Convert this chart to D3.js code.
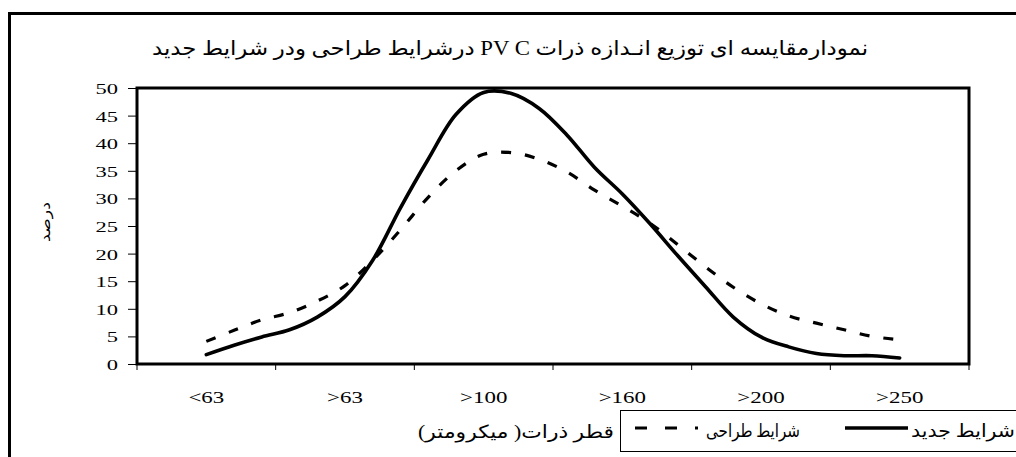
<!DOCTYPE html>
<html><head><meta charset="utf-8">
<script src="https://cdn.jsdelivr.net/npm/d3@7"></script>
<style>
html,body{margin:0;padding:0;background:#fff;}
svg{display:block;}
text{font-family:"Liberation Serif","DejaVu Sans",serif;fill:#000;}
</style></head>
<body>
<svg id="chart" width="1016" height="457"></svg>
<script>
// ---- data ----
const categories = ["<63", ">63", ">100", ">160", ">200", ">250"];
const xPositions = [0,0.2,0.4,0.6,0.8,1,1.2,1.4,1.6,1.8,2,2.2,2.4,2.6,2.8,3,3.2,3.4,3.6,3.8,4,4.2,4.4,4.6,4.8,5];
const newConditions = [1.7,3.4,4.9,6.2,8.5,12.2,18.8,28.3,37.1,45.2,49.2,49.0,46.3,41.5,35.6,30.8,25.4,19.6,14.0,8.5,4.9,3.1,1.9,1.5,1.5,1.1];
const designConditions = [4.1,6.1,8.0,9.3,11.4,14.2,18.8,24.3,30.2,35.0,38.0,38.3,37.1,34.8,31.5,28.6,25.5,21.6,17.6,13.9,10.9,8.7,7.4,6.2,5.0,4.4];
const yTicks = [0,5,10,15,20,25,30,35,40,45,50];
const titleText = "نمودارمقایسه ای توزیع انـدازه ذرات PV C درشرایط طراحی ودر شرایط جدید";
const yTitle = "درصد";
const xTitle = "قطر ذرات( میکرومتر)";
const seriesNames = ["شرایط طراحی", "شرایط جدید"];

// ---- layout ----
const svg = d3.select("#chart");
const L = 137, R = 969, T = 88, B = 364;

function fit(sel, width){
  sel.attr("textLength", width).attr("lengthAdjust","spacingAndGlyphs");
}

// outer frame
svg.append("path").attr("d","M9.5,460 V13.5 H1030").attr("fill","none").attr("stroke","#000").attr("stroke-width",3);

// title
const tt = svg.append("text").attr("x",510).attr("y",55).attr("text-anchor","middle")
  .attr("direction","rtl").style("font-size","20px").text(titleText);
fit(tt, 716);

const x = d3.scaleLinear().domain([-0.5, 5.5]).range([L, R]);
const xBand = d3.scaleBand().domain(categories).range([L, R]);
const y = d3.scaleLinear().domain([0, 50]).range([B, T]);

// y axis
const ySx = 1.5;
const gy = svg.append("g").attr("transform",`translate(${L},0)`)
  .call(d3.axisLeft(y).tickValues(yTicks).tickSize(9).tickPadding(10));
gy.select(".domain").remove();
gy.selectAll(".tick line").attr("stroke","#000").attr("stroke-width",1);
gy.selectAll(".tick text").style("font-size","15px")
  .attr("dy","0.36em").attr("x", -19/ySx).attr("transform",`scale(${ySx},1)`);

// x axis
const xSx = 1.35;
const gx = svg.append("g").attr("transform",`translate(0,${B})`)
  .call(d3.axisBottom(xBand).tickSize(0).tickPadding(27));
gx.select(".domain").remove();
gx.selectAll(".tick text").style("font-size","17px")
  .attr("transform",`scale(${xSx},1)`);
const bounds = categories.map(c => xBand(c)).concat([R]);
svg.append("g").selectAll("line").data(bounds).join("line")
  .attr("x1",d=>d).attr("x2",d=>d).attr("y1",B).attr("y2",B+6)
  .attr("stroke","#000").attr("stroke-width",1);

// plot frame
svg.append("rect").attr("x",L).attr("y",T).attr("width",R-L).attr("height",B-T)
  .attr("fill","none").attr("stroke","#000").attr("stroke-width",3);

// axis titles
const yt = svg.append("text").attr("transform",`translate(50,222) rotate(-90)`)
  .attr("text-anchor","middle").attr("direction","rtl").style("font-size","14px").text(yTitle);
fit(yt, 40);
const xt = svg.append("text").attr("x",516).attr("y",438).attr("text-anchor","middle")
  .attr("direction","rtl").style("font-size","18px").text(xTitle);
fit(xt, 196);

// lines
const line = d3.line().x((d,i)=>x(xPositions[i])).y(d=>y(d)).curve(d3.curveCatmullRom.alpha(0.5));
svg.append("path").datum(designConditions).attr("d",line).attr("fill","none")
  .attr("stroke","#000").attr("stroke-width",3.2).attr("stroke-dasharray","10,14");
svg.append("path").datum(newConditions).attr("d",line).attr("fill","none")
  .attr("stroke","#000").attr("stroke-width",3.6).attr("stroke-linecap","round");

// legend
svg.append("rect").attr("x",620.5).attr("y",410.5).attr("width",420).attr("height",41)
  .attr("fill","#fff").attr("stroke","#000").attr("stroke-width",1);
svg.append("line").attr("x1",635).attr("x2",698).attr("y1",428).attr("y2",428)
  .attr("stroke","#000").attr("stroke-width",3.2).attr("stroke-dasharray","12,18");
const l1 = svg.append("text").attr("x",753).attr("y",437).attr("text-anchor","middle")
  .attr("direction","rtl").style("font-size","18px").text(seriesNames[0]);
fit(l1, 94);
svg.append("line").attr("x1",845).attr("x2",908).attr("y1",428).attr("y2",428)
  .attr("stroke","#000").attr("stroke-width",3.6);
const l2 = svg.append("text").attr("x",963).attr("y",437).attr("text-anchor","middle")
  .attr("direction","rtl").style("font-size","18px").text(seriesNames[1]);
fit(l2, 104);
</script>
</body></html>
